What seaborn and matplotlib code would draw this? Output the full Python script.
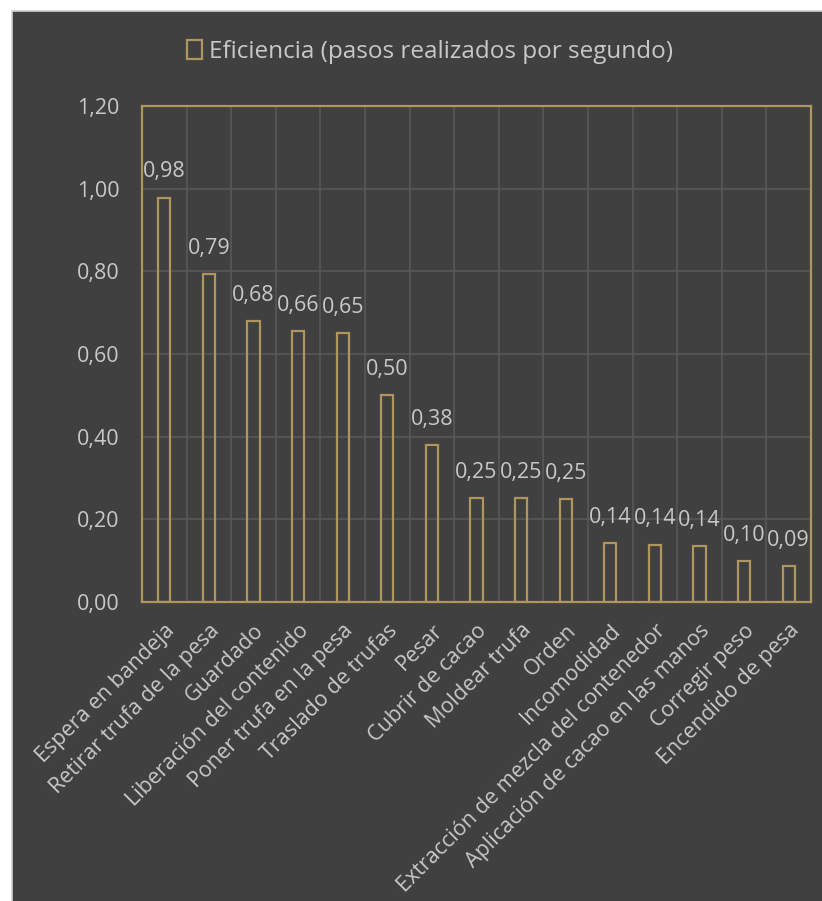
import matplotlib
matplotlib.use("Agg")
import matplotlib.pyplot as plt
from matplotlib.patches import Patch, Rectangle
import seaborn as sns
import pandas as pd

# Efficiency per process step (steps completed per second)
pasos = [
    "Espera en bandeja",
    "Retirar trufa de la pesa",
    "Guardado",
    "Liberación del contenido",
    "Poner trufa en la pesa",
    "Traslado de trufas",
    "Pesar",
    "Cubrir de cacao",
    "Moldear trufa",
    "Orden",
    "Incomodidad",
    "Extracción de mezcla del contenedor",
    "Aplicación de cacao en las manos",
    "Corregir peso",
    "Encendido de pesa",
]
eficiencia = [0.978, 0.794, 0.680, 0.656, 0.651, 0.500, 0.380, 0.252, 0.251,
              0.249, 0.143, 0.139, 0.135, 0.099, 0.087]
y_ticks = [0.0, 0.2, 0.4, 0.6, 0.8, 1.0, 1.2]
serie = "Eficiencia (pasos realizados por segundo)"

BG = "#404040"
GOLD = "#B0955F"
TEXT = "#C8C8C8"
GRID = "#585858"
FS = 15.5

sns.set_theme(style="dark")
plt.rcParams["font.family"] = ["Open Sans", "DejaVu Sans"]

df = pd.DataFrame({"paso": pasos, "valor": eficiencia})

fig = plt.figure(figsize=(8.22, 9.01), dpi=100, facecolor="white")
panel = Rectangle((12 / 822, -0.01), 1, 1.01 - 11 / 901, transform=fig.transFigure,
                  facecolor=BG, edgecolor="#D0D0D0", linewidth=1.2, zorder=-5)
fig.add_artist(panel)

ax = fig.add_axes([142 / 822, 1 - 602 / 901, (811 - 142) / 822, (602 - 106) / 901])
ax.set_zorder(1)
ax.set_facecolor(BG)

sns.barplot(data=df, x="paso", y="valor", ax=ax, fill=False, width=0.27,
            color=GOLD, edgecolor=GOLD, linewidth=1.6, zorder=3)
for p in ax.patches:
    p.set_edgecolor(GOLD)
    p.set_facecolor("none")
    p.set_linewidth(1.6)

ax.set_ylim(0, 1.2)
ax.set_xlim(-0.5, len(pasos) - 0.5)
ax.set_yticks(y_ticks)
ax.set_yticklabels([f"{t:.2f}".replace(".", ",") for t in y_ticks], color=TEXT, fontsize=FS)
ax.tick_params(axis="y", length=0, pad=16)
ax.tick_params(axis="x", length=0, pad=13)

ax.set_xticks(range(len(pasos)))
ax.set_xticklabels(pasos, rotation=45, ha="right", rotation_mode="anchor",
                   color=TEXT, fontsize=FS)
ax.set_xlabel("")
ax.set_ylabel("")

# grid: horizontal at ticks, vertical between categories
ax.grid(False)
for t in y_ticks[1:-1]:
    ax.axhline(t, color=GRID, linewidth=1.2, zorder=1)
for i in range(1, len(pasos)):
    ax.axvline(i - 0.5, color=GRID, linewidth=1.2, zorder=1)

for s in ax.spines.values():
    s.set_visible(True)
    s.set_color(GOLD)
    s.set_linewidth(1.6)

ax.bar_label(ax.containers[0],
             labels=[f"{v:.2f}".replace(".", ",") for v in eficiencia],
             padding=11, color=TEXT, fontsize=FS)

handle = Patch(facecolor="none", edgecolor=GOLD, linewidth=1.6, label=serie)
fig.legend(handles=[handle], loc="center", bbox_to_anchor=(430 / 822, 1 - 52 / 901),
           frameon=False, fontsize=17.5, labelcolor=TEXT, handlelength=0.6,
           handleheight=0.8, handletextpad=0.3)

fig.savefig("out.png", dpi=100, facecolor="white")
